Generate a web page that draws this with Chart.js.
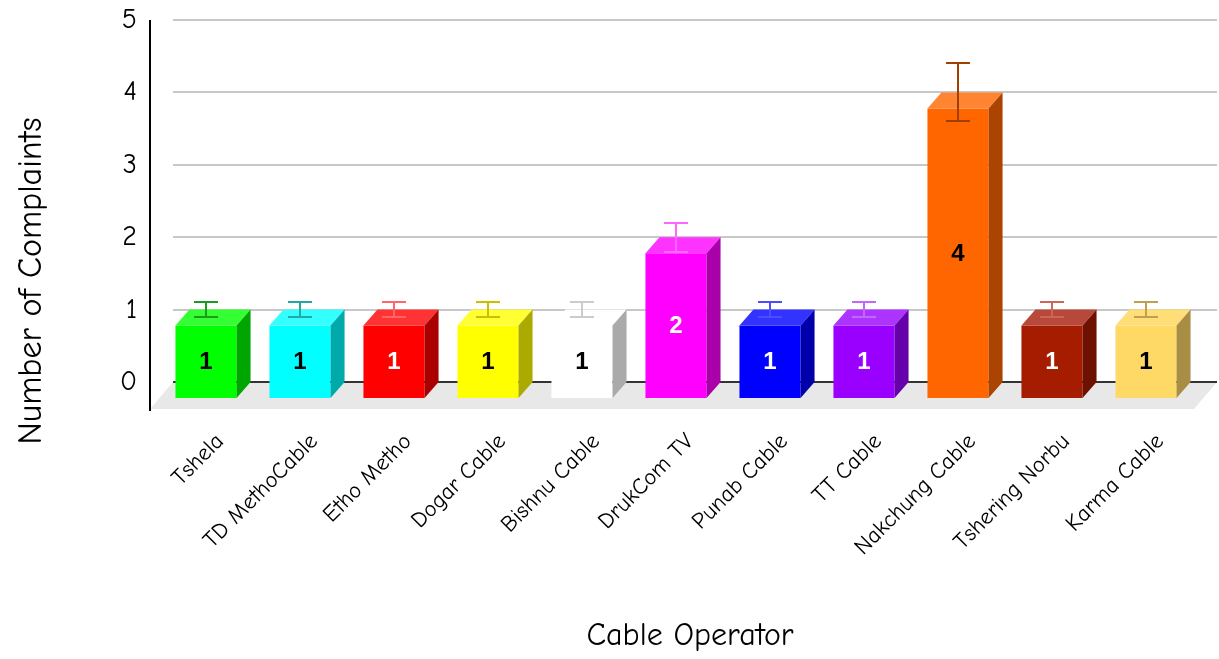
<!DOCTYPE html>
<html>
<head>
<meta charset="utf-8">
<script src="https://cdn.jsdelivr.net/npm/chart.js@4.4.1/dist/chart.umd.min.js"></script>
<style>
  html, body { margin: 0; padding: 0; background: #fff; }
</style>
</head>
<body>
<canvas id="chart" width="1219" height="659"></canvas>
<script>
// data
const operators = ['Tshela', 'TD MethoCable', 'Etho Metho', 'Dogar Cable', 'Bishnu Cable', 'DrukCom TV',
  'Punab Cable', 'TT Cable', 'Nakchung Cable', 'Tshering Norbu', 'Karma Cable'];
const complaints = [1, 1, 1, 1, 1, 2, 1, 1, 4, 1, 1];
const errors = [0.1, 0.1, 0.1, 0.1, 0.1, 0.2, 0.1, 0.1, 0.4, 0.1, 0.1];
const yTicks = [0, 1, 2, 3, 4, 5];

// colours of each face
const frontColors = ['#00FF00', '#00FFFF', '#FF0000', '#FFFF00', '#FFFFFF', '#FF00FF', '#0000FF', '#9900FF', '#FF6600', '#A61C00', '#FFD966'];
const topColors   = ['#33FF33', '#33FFFF', '#FF3333', '#FFFF33', '#FFFFFF', '#FF33FF', '#3333FF', '#AD33FF', '#FF8533', '#B8483A', '#FFDD77'];
const sideColors  = ['#00A600', '#00AAAA', '#AA0000', '#AAAA00', '#AAAAAA', '#AA00AA', '#0000AA', '#6600AA', '#AA4400', '#6E1100', '#A88E44'];
const errColors   = ['#1E9B1E', '#22A8A8', '#FF6666', '#C8C000', '#CCCCCC', '#FF66FF', '#4D4DFF', '#C266FF', '#A04000', '#CC6655', '#C0A050'];
const valueColors = ['#000', '#000', '#fff', '#000', '#000', '#fff', '#fff', '#fff', '#000', '#fff', '#000'];

const FONT = "'Comic Sans MS', 'Comic Neue', 'DejaVu Sans', sans-serif";
const DX = 14, DY = 16;      // bar depth
const FX = 23, FY = 27;      // floor depth

const box3d = {
  id: 'box3d',
  beforeDatasetsDraw(chart) {
    const { ctx, chartArea: a, scales: { y } } = chart;
    const right = a.right + 10;
    const y0 = y.getPixelForValue(0);
    ctx.save();
    // grid
    ctx.strokeStyle = '#C8C8C8';
    ctx.lineWidth = 2;
    yTicks.slice(1).forEach(t => {
      const py = Math.round(y.getPixelForValue(t));
      ctx.beginPath(); ctx.moveTo(a.left, py); ctx.lineTo(right, py); ctx.stroke();
    });
    // floor
    ctx.fillStyle = '#E8E8E8';
    ctx.beginPath();
    ctx.moveTo(a.left, y0); ctx.lineTo(right, y0);
    ctx.lineTo(right - FX, y0 + FY); ctx.lineTo(a.left - FX, y0 + FY);
    ctx.closePath(); ctx.fill();
    ctx.strokeStyle = '#333';
    ctx.beginPath(); ctx.moveTo(a.left, y0); ctx.lineTo(right, y0); ctx.stroke();
    // y axis line
    ctx.strokeStyle = '#000';
    ctx.beginPath(); ctx.moveTo(a.left - FX, y.getPixelForValue(5)); ctx.lineTo(a.left - FX, y0 + FY + 2); ctx.stroke();
    ctx.restore();
    // front faces get drawn by chart.js, shifted forward
    ctx.save();
    ctx.translate(-DX, DY);
  },
  afterDatasetsDraw(chart) {
    const { ctx, scales: { y } } = chart;
    ctx.restore();
    const meta = chart.getDatasetMeta(0);
    ctx.save();
    meta.data.forEach((bar, i) => {
      const w = bar.width;
      const x0 = bar.x - w / 2, x1 = bar.x + w / 2;
      // top
      ctx.fillStyle = topColors[i];
      ctx.beginPath();
      ctx.moveTo(x0 - DX, bar.y + DY); ctx.lineTo(x1 - DX, bar.y + DY);
      ctx.lineTo(x1, bar.y); ctx.lineTo(x0, bar.y);
      ctx.closePath(); ctx.fill();
      // side
      ctx.fillStyle = sideColors[i];
      ctx.beginPath();
      ctx.moveTo(x1 - DX, bar.y + DY); ctx.lineTo(x1, bar.y);
      ctx.lineTo(x1, bar.base); ctx.lineTo(x1 - DX, bar.base + DY);
      ctx.closePath(); ctx.fill();
      // error bar
      const ex = Math.round(bar.x - DX);
      const yt = Math.round(y.getPixelForValue(complaints[i] + errors[i]));
      const yb = Math.round(y.getPixelForValue(complaints[i] - errors[i]));
      ctx.strokeStyle = errColors[i];
      ctx.lineWidth = 2;
      ctx.beginPath();
      ctx.moveTo(ex - 12, yt); ctx.lineTo(ex + 12, yt);
      ctx.moveTo(ex, yt); ctx.lineTo(ex, yb);
      ctx.moveTo(ex - 12, yb); ctx.lineTo(ex + 12, yb);
      ctx.stroke();
      // value label
      ctx.fillStyle = valueColors[i];
      ctx.font = "bold 24px 'Liberation Sans', Arial, sans-serif";
      ctx.textAlign = 'center';
      ctx.textBaseline = 'middle';
      ctx.fillText(String(complaints[i]), bar.x - DX, (bar.y + bar.base) / 2 + DY + 1);
    });
    ctx.restore();
  },
  afterDraw(chart) {
    const { ctx } = chart;
    ctx.save();
    ctx.translate(31, 281);
    ctx.rotate(-Math.PI / 2);
    ctx.fillStyle = '#000';
    ctx.font = '34px ' + FONT;
    ctx.textAlign = 'center';
    ctx.textBaseline = 'middle';
    ctx.fillText('Number of Complaints', 0, 0);
    ctx.restore();
  }
};

new Chart(document.getElementById('chart'), {
  type: 'bar',
  data: {
    labels: operators,
    datasets: [{
      data: complaints,
      backgroundColor: frontColors,
      borderWidth: 0,
      categoryPercentage: 1,
      barPercentage: 0.65,
      clip: false
    }]
  },
  options: {
    responsive: false,
    animation: false,
    devicePixelRatio: 1,
    layout: { padding: { top: 20, right: 12, left: 0, bottom: 0 } },
    plugins: { legend: { display: false }, tooltip: { enabled: false } },
    scales: {
      x: {
        grid: { display: false },
        border: { display: false },
        ticks: {
          minRotation: 45, maxRotation: 45, padding: 38,
          color: '#000', font: { family: FONT, size: 23 }
        },
        title: {
          display: true, text: 'Cable Operator', color: '#000',
          font: { family: FONT, size: 32 }, padding: { top: 0, bottom: 4 }
        },
        afterFit(s) { s.height = 277; }
      },
      y: {
        min: 0, max: 5,
        // tick marks are hidden; their length just pushes the labels left
        grid: { display: false, drawTicks: true, tickLength: 36 },
        border: { display: false },
        ticks: {
          stepSize: 1, padding: 0, color: '#000',
          font: { family: FONT, size: 28 }
        },
        afterFit(s) { s.width = 173; }
      }
    }
  },
  plugins: [box3d]
});
</script>
</body>
</html>
